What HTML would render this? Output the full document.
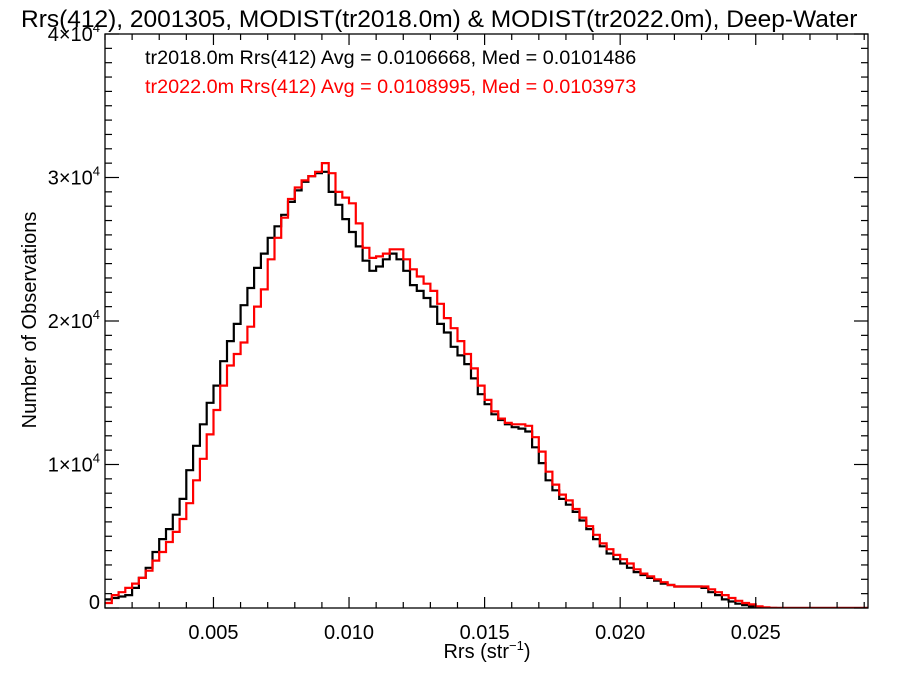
<!DOCTYPE html>
<html><head><meta charset="utf-8">
<style>
html,body{margin:0;padding:0;background:#fff;}
svg{display:block;font-family:"Liberation Sans",Helvetica,Arial,sans-serif;}
</style></head>
<body>
<svg id="chart" width="900" height="675" viewBox="0 0 900 675">
<text x="21" y="27" font-size="24.5" fill="#000">Rrs(412), 2001305, MODIST(tr2018.0m) &amp; MODIST(tr2022.0m), Deep-Water</text>
<text x="145" y="64" font-size="19.8" fill="#000">tr2018.0m Rrs(412) Avg = 0.0106668, Med = 0.0101486</text>
<text x="145" y="93" font-size="19.8" fill="#ff0000">tr2022.0m Rrs(412) Avg = 0.0108995, Med = 0.0103973</text>
<g id="plot"></g>
<g id="axes"></g>
<text x="487" y="658" font-size="20" text-anchor="middle">Rrs (str<tspan dy="-8" font-size="13">−1</tspan><tspan dy="8">)</tspan></text>
<text transform="translate(36,320) rotate(-90)" font-size="20" text-anchor="middle">Number of Observations</text>
</svg>
<script>
const binStart = 0.001;
const binWidth = 0.00025;
const seriesBlack = [0.6,0.7,0.8,0.9,1.4,2.1,2.8,3.9,4.8,5.5,6.5,7.6,9.6,11.3,12.8,14.3,15.5,17.2,18.6,19.8,21.1,22.3,23.7,24.7,25.8,26.6,27.4,28.3,29.1,29.7,30.1,30.3,30.4,29.0,28.1,27.1,26.2,25.2,24.2,23.5,23.8,24.3,24.7,24.3,23.5,22.5,22.1,21.6,21.0,19.8,19.2,18.2,17.6,17.0,16.0,14.9,14.2,13.5,13.1,12.8,12.6,12.5,12.3,11.2,10.1,8.9,8.2,7.6,7.2,6.7,6.1,5.5,4.8,4.3,3.8,3.4,3.1,2.8,2.5,2.3,2.1,1.9,1.7,1.6,1.5,1.5,1.5,1.5,1.4,1.1,0.9,0.6,0.45,0.3,0.2,0.1,0.05,0.02,0,0,0,0,0,0,0,0,0,0,0,0,0,0,0,0,0];
const seriesRed = [0.35,0.9,1.1,1.4,1.7,2.1,2.6,3.3,3.9,4.6,5.3,6.2,7.3,8.9,10.4,12.1,13.8,15.5,16.9,17.7,18.5,19.6,21.0,22.2,24.3,25.8,27.2,28.5,29.3,29.8,30.1,30.4,31.0,30.3,29.0,28.6,28.2,26.8,25.1,24.4,24.5,24.7,25.0,25.0,24.3,23.6,23.1,22.6,22.1,21.2,20.2,19.5,18.6,17.7,16.7,15.5,14.5,13.7,13.2,12.9,12.8,12.8,12.7,11.9,10.9,9.5,8.6,7.9,7.5,6.9,6.3,5.7,5.1,4.5,4.1,3.7,3.4,3.1,2.7,2.4,2.2,2.0,1.8,1.6,1.5,1.5,1.5,1.5,1.5,1.3,1.1,0.9,0.7,0.5,0.35,0.25,0.12,0.05,0.01,0,0,0,0,0,0,0,0,0,0,0,0,0,0,0];
const xTickLabels = ["0.005","0.010","0.015","0.020","0.025"];
const xTickValues = [0.005,0.010,0.015,0.020,0.025];
const yTickValues = [0,10000,20000,30000,40000];

const NS="http://www.w3.org/2000/svg";
const L=105,R=868,T=34,B=608;
const xMin=0.001,xMax=0.02914,yMax=40000;
function xs(v){return L+(v-xMin)/(xMax-xMin)*(R-L);}
function ys(c){return B-c/yMax*(B-T);}
function mk(tag,attrs,parent){const e=document.createElementNS(NS,tag);for(const k in attrs)e.setAttribute(k,attrs[k]);parent.appendChild(e);return e;}
const plot=document.getElementById('plot');
const axes=document.getElementById('axes');
const defs=mk('defs',{},plot);
const cp=mk('clipPath',{id:'clip'},defs);
mk('rect',{x:L,y:T-5,width:R-L,height:B-T+5},cp);

function stepPath(arr){
  let d='';
  for(let i=0;i<arr.length;i++){
    const x0=xs(binStart+i*binWidth),x1=xs(binStart+(i+1)*binWidth),y=ys(arr[i]*1000);
    d+=(i===0?'M':'L')+x0.toFixed(1)+','+y.toFixed(1)+'L'+x1.toFixed(1)+','+y.toFixed(1);
  }
  return d;
}
const pb=mk('path',{d:stepPath(seriesBlack),fill:'none',stroke:'#000','stroke-width':2.2,'clip-path':'url(#clip)'},plot);


const pr=mk('path',{d:stepPath(seriesRed),fill:'none',stroke:'#ff0000','stroke-width':2.2,'clip-path':'url(#clip)'},plot);



const frame=mk('rect',{x:L,y:T,width:R-L,height:B-T,fill:'none',stroke:'#000','stroke-width':1.3},axes);



for(let v=0.001;v<=xMax+1e-9;v+=0.001){
  const x=xs(v);const major=xTickValues.some(t=>Math.abs(t-v)<1e-7);
  const len=major?11:6;
  mk('line',{x1:x,y1:B,x2:x,y2:B-len,stroke:'#000','stroke-width':1.2},axes);
  mk('line',{x1:x,y1:T,x2:x,y2:T+len,stroke:'#000','stroke-width':1.2},axes);
}
xTickValues.forEach((v,i)=>{
  const t=mk('text',{x:xs(v),y:B+31,'font-size':20,'text-anchor':'middle'},axes);
  t.textContent=xTickLabels[i];
  
  
});
for(let c=0;c<=yMax;c+=1000){
  const y=ys(c);const major=c%10000===0;const len=major?14:7;
  mk('line',{x1:L,y1:y,x2:L+len,y2:y,stroke:'#000','stroke-width':1.2},axes);
  mk('line',{x1:R,y1:y,x2:R-len,y2:y,stroke:'#000','stroke-width':1.2},axes);
}
yTickValues.forEach(c=>{
  const t=mk('text',{x:100,y:ys(c)+(c===0?1:7),'font-size':20,'text-anchor':'end'},axes);
  if(c===0){t.textContent='0';}
  else{
    t.textContent=(c/10000)+'×10';
    const s=mk('tspan',{dy:-9,'font-size':13},t);s.textContent='4';
  }
  
  
});
</script>
</body></html>
